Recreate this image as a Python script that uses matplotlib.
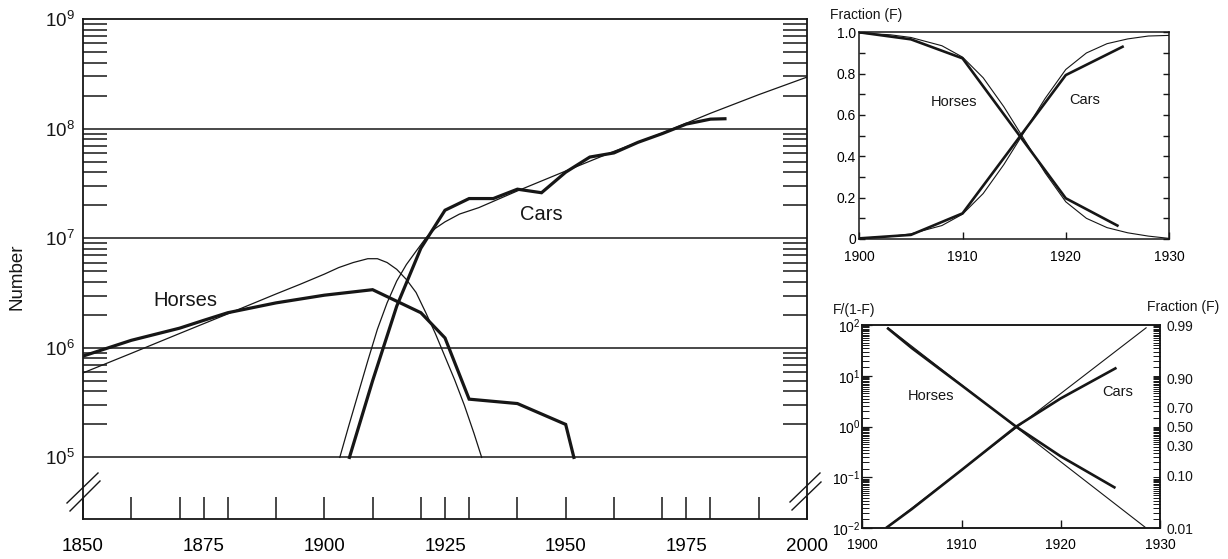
import matplotlib
matplotlib.use("Agg")
import matplotlib.pyplot as plt
from matplotlib.lines import Line2D
from matplotlib.ticker import FixedLocator, FixedFormatter, NullFormatter

plt.rcParams["font.family"] = ["Liberation Sans", "DejaVu Sans"]
plt.rcParams["mathtext.fontset"] = "custom"
plt.rcParams["mathtext.rm"] = "Liberation Sans"
plt.rcParams["mathtext.it"] = "Liberation Sans:italic"
plt.rcParams["mathtext.bf"] = "Liberation Sans:bold"
plt.rcParams["mathtext.sf"] = "Liberation Sans"

INK = "#161616"

# ---------------- Main panel: numbers of horses and cars ----------------
horse_years = [1850, 1860, 1870, 1875, 1880, 1890, 1900, 1910, 1920, 1925,
               1930, 1940, 1950, 1951.7]
horse_count = [8.4e5, 1.17e6, 1.51e6, 1.78e6, 2.09e6, 2.57e6, 3.02e6, 3.39e6,
               2.09e6, 1.23e6, 3.4e5, 3.1e5, 2.0e5, 1.0e5]

car_years = [1905.2, 1910, 1915, 1920, 1925, 1930, 1935, 1940, 1945, 1950,
             1955, 1960, 1965, 1970, 1975, 1980, 1983]
car_count = [1.0e5, 5.0e5, 2.4e6, 8.1e6, 1.8e7, 2.3e7, 2.3e7, 2.8e7, 2.6e7,
             4.0e7, 5.5e7, 6.0e7, 7.5e7, 9.0e7, 1.1e8, 1.22e8, 1.23e8]

horse_fit_years = [1850, 1860, 1870, 1880, 1890, 1895, 1900, 1903, 1906, 1909,
                   1911, 1913, 1915, 1917, 1919, 1921, 1923, 1925, 1927, 1929,
                   1931, 1932.6]
horse_fit_count = [5.9e5, 8.9e5, 1.35e6, 2.04e6, 3.1e6, 3.8e6, 4.7e6, 5.4e6,
                   6.0e6, 6.5e6, 6.5e6, 6.0e6, 5.2e6, 4.2e6, 3.2e6, 2.1e6,
                   1.35e6, 8.3e5, 5.1e5, 3.0e5, 1.66e5, 1.0e5]

car_fit_years = [1903.2, 1905, 1907, 1909, 1911, 1913, 1915, 1917, 1919, 1921,
                 1923, 1925, 1928, 1932, 1940, 1950, 1960, 1970, 1980, 1990,
                 2000]
car_fit_count = [1.0e5, 1.9e5, 3.8e5, 7.6e5, 1.48e6, 2.57e6, 4.07e6, 5.75e6,
                 7.6e6, 1.0e7, 1.23e7, 1.41e7, 1.66e7, 1.9e7, 2.7e7, 4.1e7,
                 6.2e7, 9.1e7, 1.38e8, 2.04e8, 2.95e8]

main_xlabels = [1850, 1875, 1900, 1925, 1950, 1975, 2000]
main_xminor = [1860, 1870, 1880, 1890, 1910, 1920, 1930, 1940, 1960, 1970,
               1980, 1990]
main_decades = [5, 6, 7, 8, 9]

# ---------------- Upper inset: market fractions ----------------
frac_years = [1900, 1905, 1910, 1920, 1925]
horse_frac = [1.0, 0.966, 0.874, 0.197, 0.065]
car_years_frac = [1900, 1905, 1910, 1920, 1925.5]
car_frac = [0.003, 0.02, 0.124, 0.793, 0.93]

frac_fit_years = [1900, 1903, 1905, 1908, 1910, 1912, 1914, 1916, 1918, 1920,
                  1922, 1924, 1926, 1928, 1930]
car_frac_fit = [0.004, 0.012, 0.025, 0.065, 0.12, 0.22, 0.36, 0.52, 0.68,
                0.82, 0.90, 0.945, 0.968, 0.982, 0.985]
horse_frac_fit = [0.996, 0.988, 0.975, 0.935, 0.88, 0.78, 0.64, 0.48, 0.32,
                  0.18, 0.10, 0.055, 0.030, 0.014, 0.003]

# ---------------- Lower inset: F/(1-F) ----------------
horse_odds_years = [1902.6, 1905, 1910, 1915.5, 1920, 1925.4]
horse_odds = [85, 35, 6.5, 1.0, 0.26, 0.064]
car_odds_years = [1902.5, 1905, 1910, 1915.5, 1920, 1925.5]
car_odds = [0.0105, 0.024, 0.14, 1.0, 3.6, 14]
horse_odds_fit_years = [1902.6, 1928.5]
horse_odds_fit = [88, 0.0105]
car_odds_fit_years = [1902.5, 1928.6]
car_odds_fit = [0.0105, 88]
frac_tick_values = [0.01, 0.10, 0.30, 0.50, 0.70, 0.90, 0.99]

W, H = 1228, 559
fig = plt.figure(figsize=(W / 100, H / 100), dpi=100)


def frame(l, t, r, b):
    return [l / W, 1 - b / H, (r - l) / W, (b - t) / H]


def px_line(xs, ys, lw=1.0):
    fig.add_artist(Line2D([x / W for x in xs], [1 - y / H for y in ys],
                          transform=fig.transFigure, color=INK, lw=lw))


def px_text(x, y, s, size, **kw):
    kw.setdefault("ha", "center")
    fig.text(x / W, 1 - y / H, s, fontsize=size, va="center", color=INK, **kw)


THICK, THIN = 2.3, 0.9

# ===== main panel =====
ax = fig.add_axes(frame(83, 19, 807, 519))
ax.set_yscale("log")
ax.set_xlim(1850, 2000)
ax.set_ylim(10 ** 4.438, 1e9)
for d in main_decades[:-1]:
    ax.axhline(10.0 ** d, color=INK, lw=1.1, zorder=1)
ax.plot(horse_fit_years, horse_fit_count, color=INK, lw=THIN, zorder=2)
ax.plot(car_fit_years, car_fit_count, color=INK, lw=THIN, zorder=2)
ax.plot(horse_years, horse_count, color=INK, lw=THICK, zorder=3,
        solid_joinstyle="miter")
ax.plot(car_years, car_count, color=INK, lw=THICK, zorder=3,
        solid_joinstyle="miter")

ax.yaxis.set_major_locator(FixedLocator([10.0 ** d for d in main_decades]))
ax.yaxis.set_major_formatter(FixedFormatter(
    [r"$\mathregular{10^{%d}}$" % d for d in main_decades]))
ax.yaxis.set_minor_locator(FixedLocator(
    [m * 10.0 ** d for d in main_decades[:-1] for m in range(2, 10)]))
ax.yaxis.set_minor_formatter(NullFormatter())
ax.tick_params(axis="y", which="major", length=0, pad=6, labelsize=13.5,
               colors=INK)
ax.tick_params(axis="y", which="minor", direction="in", length=17, width=1.1,
               left=True, right=True, color=INK)
ax.xaxis.set_major_locator(FixedLocator(main_xlabels))
ax.xaxis.set_major_formatter(FixedFormatter([str(v) for v in main_xlabels]))
ax.xaxis.set_minor_locator(FixedLocator(main_xminor))
ax.tick_params(axis="x", which="both", direction="in", length=16, width=1.1,
               color=INK, pad=14, labelsize=13.5)
for s in ax.spines.values():
    s.set_linewidth(1.3)
    s.set_color(INK)

px_text(185, 300, "Horses", 14.5)
px_text(541, 215, "Cars", 14.5)
px_text(17, 277, "Number", 13.5, rotation=90)

# axis breaks below 10^5
px_line([67, 98], [503, 473], 1.0)
px_line([70, 100], [511, 481], 1.0)
px_line([790, 820], [502, 473], 1.0)
px_line([792, 821], [510, 482], 1.0)

# ===== upper inset =====
a2 = fig.add_axes(frame(859.3, 32.3, 1169, 239))
a2.set_xlim(1900, 1930)
a2.set_ylim(0, 1)
a2.plot(frac_fit_years, horse_frac_fit, color=INK, lw=0.8)
a2.plot(frac_fit_years, car_frac_fit, color=INK, lw=0.8)
a2.plot(frac_years, horse_frac, color=INK, lw=1.9)
a2.plot(car_years_frac, car_frac, color=INK, lw=1.9)
a2.set_xticks([1900, 1910, 1920, 1930])
a2.set_yticks([0, 0.2, 0.4, 0.6, 0.8, 1.0])
a2.set_yticklabels(["0", "0.2", "0.4", "0.6", "0.8", "1.0"])
a2.set_yticks([0.1, 0.3, 0.5, 0.7, 0.9], minor=True)
a2.tick_params(axis="y", which="both", direction="in", length=4, width=1.0,
               left=True, right=True, pad=2.5, labelsize=10, color=INK)
a2.tick_params(axis="x", which="both", direction="in", length=5, width=1.0,
               pad=8, labelsize=10, color=INK)
for s in a2.spines.values():
    s.set_linewidth(1.1)
    s.set_color(INK)
px_text(953.5, 102.5, "Horses", 10.5)
px_text(1084.5, 100, "Cars", 10.5)
px_text(830, 15, "Fraction (F)", 10, ha="left")

# ===== lower inset =====
a3 = fig.add_axes(frame(862.3, 325, 1160, 528.3))
a3.set_yscale("log")
a3.set_xlim(1900, 1930)
a3.set_ylim(0.01, 100)
a3.plot(horse_odds_fit_years, horse_odds_fit, color=INK, lw=0.8)
a3.plot(car_odds_fit_years, car_odds_fit, color=INK, lw=0.8)
a3.plot(horse_odds_years, horse_odds, color=INK, lw=1.9)
a3.plot(car_odds_years, car_odds, color=INK, lw=1.9)

odd_decades = [-2, -1, 0, 1, 2]
subs = [1.5 + 0.5 * i for i in range(17)]
odd_minor = [s * 10.0 ** d for d in odd_decades[:-1] for s in subs]
a3.yaxis.set_major_locator(FixedLocator([10.0 ** d for d in odd_decades]))
a3.yaxis.set_major_formatter(FixedFormatter(
    [r"$\mathregular{10^{%d}}$" % d for d in odd_decades]))
a3.yaxis.set_minor_locator(FixedLocator(odd_minor))
a3.yaxis.set_minor_formatter(NullFormatter())
a3.tick_params(axis="y", which="major", direction="in", length=7, width=0.9,
               pad=1.5, labelsize=10, color=INK)
a3.tick_params(axis="y", which="minor", direction="in", length=5, width=0.7,
               color=INK)
a3.set_xticks([1900, 1910, 1920, 1930])
a3.tick_params(axis="x", direction="in", length=6, width=1.0, pad=7,
               labelsize=10, color=INK)

a3r = a3.twinx()
a3r.set_yscale("log")
a3r.set_ylim(0.01, 100)
a3r.yaxis.remove_overlapping_locs = False
a3r.yaxis.set_major_locator(FixedLocator([f / (1 - f) for f in frac_tick_values]))
a3r.yaxis.set_major_formatter(FixedFormatter(["%.2f" % f for f in frac_tick_values]))
a3r.yaxis.set_minor_locator(FixedLocator(odd_minor + [10.0 ** d for d in odd_decades]))
a3r.yaxis.set_minor_formatter(NullFormatter())
a3r.tick_params(axis="y", which="major", length=0, pad=5, labelsize=10,
                colors=INK)
a3r.tick_params(axis="y", which="minor", direction="in", length=5, width=0.7,
                color=INK)
for axx in (a3, a3r):
    for s in axx.spines.values():
        s.set_linewidth(1.1)
        s.set_color(INK)

px_text(931.5, 396, "Horses", 10.5)
px_text(1117.5, 392.5, "Cars", 10.5)
px_text(833, 310, "F/(1-F)", 10, ha="left")
px_text(1219, 307.5, "Fraction (F)", 10, ha="right")

fig.savefig("out.png", dpi=100, facecolor="white")
